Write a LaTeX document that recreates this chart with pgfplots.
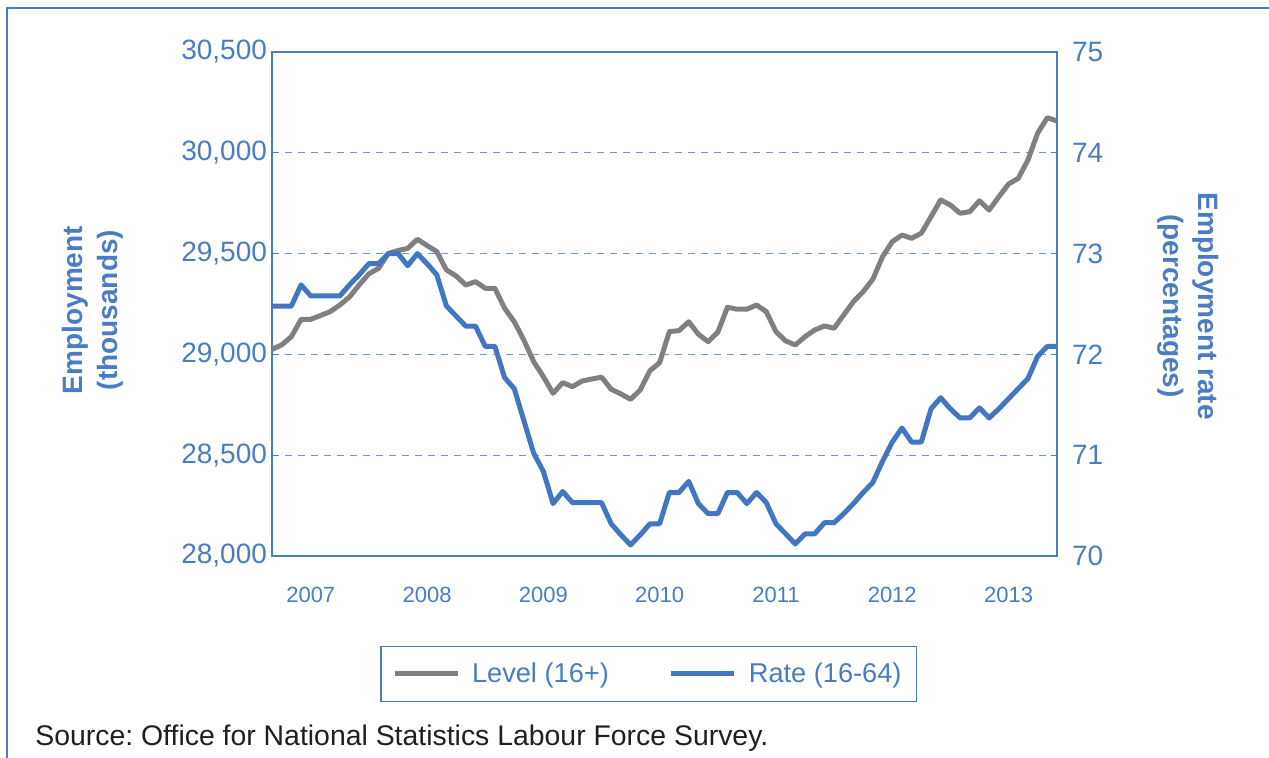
\documentclass[border=0pt]{standalone}
\usepackage{pgfplots}
\pgfplotsset{compat=1.18}
\usepackage{pgfplotstable}
\usepackage{fontspec}
\setmainfont{Liberation Sans}
\frenchspacing
\definecolor{axblue}{RGB}{74,124,196}
\definecolor{lineblue}{RGB}{66,118,192}
\definecolor{linegray}{RGB}{128,128,128}
\definecolor{gridblue}{RGB}{110,150,210}
\pgfplotstableread{
x L R
0 29025 72.48
1 29047 72.48
2 29088 72.48
3 29174 72.69
4 29174 72.58
5 29193 72.58
6 29212 72.58
7 29245 72.58
8 29285 72.69
9 29345 72.79
10 29400 72.90
11 29427 72.90
12 29501 73.00
13 29515 73.00
14 29526 72.88
15 29571 73.00
16 29540 72.90
17 29510 72.79
18 29419 72.48
19 29389 72.38
20 29344 72.28
21 29361 72.28
22 29328 72.08
23 29328 72.08
24 29229 71.77
25 29162 71.66
26 29070 71.34
27 28964 71.02
28 28890 70.84
29 28807 70.52
30 28860 70.64
31 28840 70.53
32 28868 70.53
33 28878 70.53
34 28887 70.53
35 28827 70.32
36 28804 70.21
37 28777 70.11
38 28824 70.21
39 28919 70.32
40 28959 70.32
41 29113 70.63
42 29118 70.63
43 29162 70.74
44 29100 70.52
45 29063 70.42
46 29110 70.42
47 29234 70.63
48 29224 70.63
49 29224 70.52
50 29245 70.63
51 29212 70.53
52 29113 70.32
53 29067 70.22
54 29047 70.12
55 29088 70.22
56 29121 70.22
57 29141 70.33
58 29130 70.33
59 29196 70.42
60 29262 70.52
61 29311 70.63
62 29373 70.73
63 29485 70.94
64 29559 71.13
65 29592 71.27
66 29576 71.13
67 29601 71.13
68 29683 71.46
69 29766 71.57
70 29741 71.46
71 29700 71.37
72 29708 71.37
73 29762 71.47
74 29716 71.37
75 29782 71.46
76 29845 71.56
77 29873 71.66
78 29964 71.76
79 30097 71.98
80 30174 72.08
81 30158 72.08
}\data
\begin{document}
\begin{tikzpicture}
\useasboundingbox (0pt,0pt) rectangle (634.5pt,378.5pt);
\draw[axblue, line width=1.2pt] (3.5pt,-2pt) -- (3.5pt,374.5pt) -- (640pt,374.5pt);
\begin{axis}[
  at={(136pt,100.5pt)}, anchor=south west,
  scale only axis, width=392.5pt, height=252pt,
  xmin=0, xmax=81, ymin=28000, ymax=30500,
  axis line style={axblue, line width=0.75pt},
  ytick={28000,28500,29000,29500,30000,30500},
  scaled y ticks=false,
  yticklabel style={/pgf/number format/fixed, /pgf/number format/1000 sep={,}, /pgf/number format/assume math mode=true,
    font=\fontsize{14}{16}\selectfont, text=axblue, xshift=1pt},
  ytick pos=left,
  tick align=inside,
  major tick length=3pt,
  tick style={axblue, line width=0.6pt},
  xtick={4,16,28,40,52,64,76},
  xticklabels={2007,2008,2009,2010,2011,2012,2013},
  x tick style={draw=none},
  xtick pos=bottom,
  ymajorgrids,
  grid style={gridblue, dash pattern=on 3.5pt off 3pt, line width=0.5pt},
  xticklabel style={font=\fontsize{11}{13}\selectfont, text=axblue, yshift=-12pt},
  ylabel={Employment\\(thousands)},
  ylabel style={at={(axis description cs:-0.228,0.488)}, anchor=center, align=center, font=\bfseries\fontsize{14}{17.5}\selectfont, text=axblue},
]
\addplot[linegray, line width=2.5pt, line join=round] table[x=x,y=L]{\data};
\end{axis}
\begin{axis}[
  at={(136pt,100.5pt)}, anchor=south west,
  scale only axis, width=392.5pt, height=252pt,
  xmin=0, xmax=81, ymin=70, ymax=75,
  axis x line=none,
  axis y line*=right,
  axis line style={axblue, line width=0.75pt},
  ytick={70,71,72,73,74,75},
  tick align=inside,
  major tick length=3pt,
  tick style={axblue, line width=0.6pt},
  yticklabel style={/pgf/number format/assume math mode=true, font=\fontsize{14}{16}\selectfont, text=axblue, xshift=4pt},
  ylabel={Employment rate\\(percentages)},
  ylabel style={at={(axis description cs:1.167,0.496)}, anchor=center, rotate=180, align=center, font=\bfseries\fontsize{14}{17.5}\selectfont, text=axblue},
  legend columns=2,
  legend image code/.code={\draw[#1] (0pt,0pt) -- (31.5pt,0pt);},
  legend style={at={(0.48,-0.234)}, anchor=center, draw=axblue, line width=0.7pt,
    font=\fontsize{13.6}{15}\selectfont, text=axblue, inner xsep=5.5pt, inner ysep=6pt,
    /tikz/every odd column/.append style={column sep=4pt},
    /tikz/every even column/.append style={column sep=28pt}},
]
\addlegendimage{linegray, line width=2.5pt}
\addlegendentry{Level (16+)}
\addplot[lineblue, line width=2.5pt, line join=round] table[x=x,y=R]{\data};
\addlegendentry{Rate (16-64)}
\end{axis}
\node[anchor=west, inner sep=0pt, font=\fontsize{14.2}{16}\selectfont, text=black!88] at (17.5pt,9.5pt) {Source: Office for National Statistics Labour Force Survey.};
\end{tikzpicture}
\end{document}
